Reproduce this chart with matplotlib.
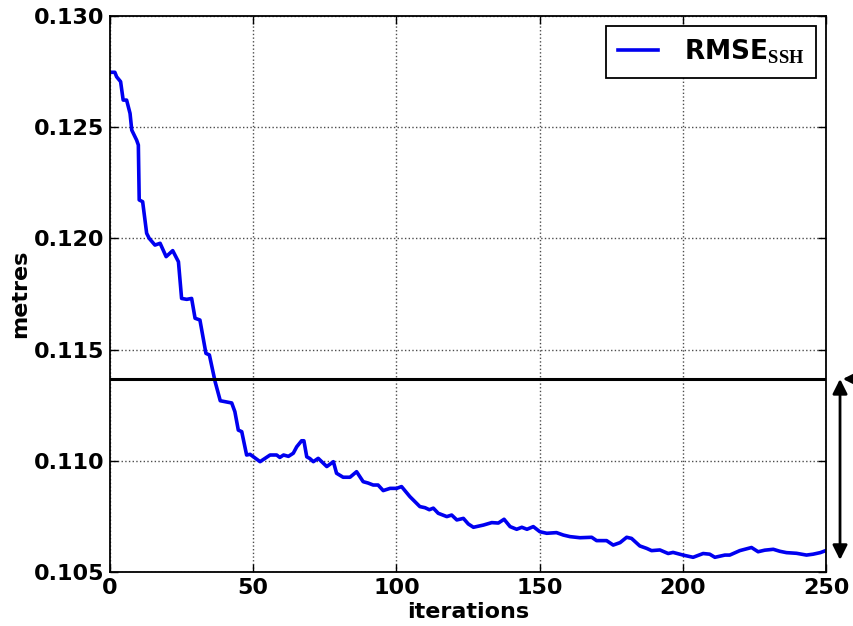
import matplotlib
matplotlib.use('Agg')
import matplotlib.pyplot as plt

# Читаем значения с картинки
iterations = [0.3, 1.7, 2.3, 3.7, 4.6, 5.8, 7.0, 7.6, 9.3, 9.9, 10.2, 11.4, 12.8, 13.7,
              15.7, 17.5, 19.6, 21.9, 23.9, 25.0, 26.8, 28.5, 29.7, 31.4, 33.5, 34.7,
              36.7, 38.5, 42.5, 43.6, 44.8, 46.0, 47.7, 48.9, 52.4, 55.9, 58.2, 59.3,
              60.6, 62.3, 64.0, 65.2, 66.9, 67.7, 68.7, 69.8, 71.0, 72.7, 74.0, 75.7,
              78.0, 79.1, 81.4, 83.8, 86.1, 88.4, 90.1, 91.9, 93.6, 95.4, 97.8, 100.1,
              101.8, 104.7, 108.2, 110.0, 111.5, 112.9, 114.6, 117.6, 119.3, 121.1,
              123.4, 125.1, 126.9, 130.4, 133.3, 135.6, 137.6, 139.7, 142.0, 143.8,
              145.6, 147.8, 150.1, 152.5, 155.9, 158.3, 160.6, 164.1, 168.2, 169.9,
              173.4, 175.7, 178.1, 180.4, 182.1, 185.0, 187.4, 189.1, 192.0, 194.9,
              196.6, 200.1, 203.6, 207.1, 209.4, 211.2, 214.7, 216.4, 219.9, 224.0,
              226.3, 228.6, 231.6, 233.9, 236.2, 239.7, 243.2, 245.5, 248.0, 249.7]
rmse = [0.12747, 0.12747, 0.12727, 0.12705, 0.12622, 0.12622, 0.12562, 0.12487,
        0.12442, 0.12420, 0.12173, 0.12165, 0.12023, 0.12000, 0.11970, 0.11978,
        0.11918, 0.11945, 0.11895, 0.11730, 0.11726, 0.11730, 0.11641, 0.11633,
        0.11483, 0.11476, 0.11356, 0.11270, 0.11260, 0.11221, 0.11138, 0.11131,
        0.11026, 0.11029, 0.10996, 0.11026, 0.11026, 0.11015, 0.11026, 0.11020,
        0.11034, 0.11063, 0.11090, 0.11090, 0.11018, 0.11010, 0.10996, 0.11011,
        0.10995, 0.10974, 0.10996, 0.10944, 0.10926, 0.10926, 0.10951, 0.10906,
        0.10900, 0.10891, 0.10891, 0.10866, 0.10876, 0.10876, 0.10884, 0.10839,
        0.10794, 0.10789, 0.10780, 0.10787, 0.10764, 0.10749, 0.10756, 0.10734,
        0.10741, 0.10716, 0.10701, 0.10711, 0.10722, 0.10720, 0.10737, 0.10704,
        0.10692, 0.10701, 0.10692, 0.10704, 0.10681, 0.10674, 0.10677, 0.10666,
        0.10659, 0.10654, 0.10656, 0.10641, 0.10641, 0.10621, 0.10632, 0.10656,
        0.10651, 0.10617, 0.10606, 0.10596, 0.10599, 0.10583, 0.10588, 0.10576,
        0.10566, 0.10583, 0.10580, 0.10566, 0.10576, 0.10576, 0.10596, 0.10610,
        0.10591, 0.10598, 0.10602, 0.10593, 0.10587, 0.10584, 0.10576, 0.10580,
        0.10587, 0.10595]
threshold = 0.11368
arrow_low = 0.10554
legend_label = 'RMSE' + r'$_{\mathrm{SSH}}$'

plt.rcParams['mathtext.fontset'] = 'custom'
plt.rcParams['mathtext.rm'] = 'Liberation Serif:bold'

fig = plt.figure(figsize=(8.54, 6.26), dpi=100)
ax = fig.add_axes([0.1288, 0.0863, 0.8384, 0.8881])

ax.plot(iterations, rmse, color='#0000f0', linewidth=2.6, label=legend_label)
ax.axhline(threshold, color='k', linewidth=2.2)

ax.set_xlim(0, 250)
ax.set_ylim(0.105, 0.130)
ax.set_xticks([0, 50, 100, 150, 200, 250])
ax.set_yticks([0.105, 0.110, 0.115, 0.120, 0.125, 0.130])
ax.set_yticklabels(['0.105', '0.110', '0.115', '0.120', '0.125', '0.130'])
ax.grid(True, color='k', linestyle=':', linewidth=1.0, alpha=0.7)
ax.tick_params(direction='in', length=6, width=1, top=True, right=True,
               labelsize=16, pad=4)
for lbl in ax.get_xticklabels() + ax.get_yticklabels():
    lbl.set_fontweight('bold')
for s in ax.spines.values():
    s.set_linewidth(1.3)

ax.set_xlabel('iterations', fontsize=16, fontweight='bold', labelpad=3)
ax.set_ylabel('metres', fontsize=16, fontweight='bold', labelpad=3)

leg = ax.legend(loc='upper right', prop={'size': 19, 'weight': 'bold'},
                fancybox=False, framealpha=1, edgecolor='k',
                handlelength=1.5, borderpad=0.45, handletextpad=1.0,
                bbox_to_anchor=(1.0, 1.0), borderaxespad=0.36)
leg.get_frame().set_linewidth(1.3)

# стрелки справа от осей
ax.annotate('', xy=(1.0196, threshold), xycoords=('axes fraction', 'data'),
            xytext=(1.0196, arrow_low), textcoords=('axes fraction', 'data'),
            arrowprops=dict(arrowstyle='<|-|>', color='k', lw=2, mutation_scale=22,
                            shrinkA=0, shrinkB=0),
            annotation_clip=False)
ax.annotate('', xy=(1.0235, threshold), xycoords=('axes fraction', 'data'),
            xytext=(1.09, threshold), textcoords=('axes fraction', 'data'),
            arrowprops=dict(arrowstyle='-|>', color='k', lw=2, mutation_scale=22,
                            shrinkA=0, shrinkB=0),
            annotation_clip=False)

fig.savefig('out.png', dpi=100)
